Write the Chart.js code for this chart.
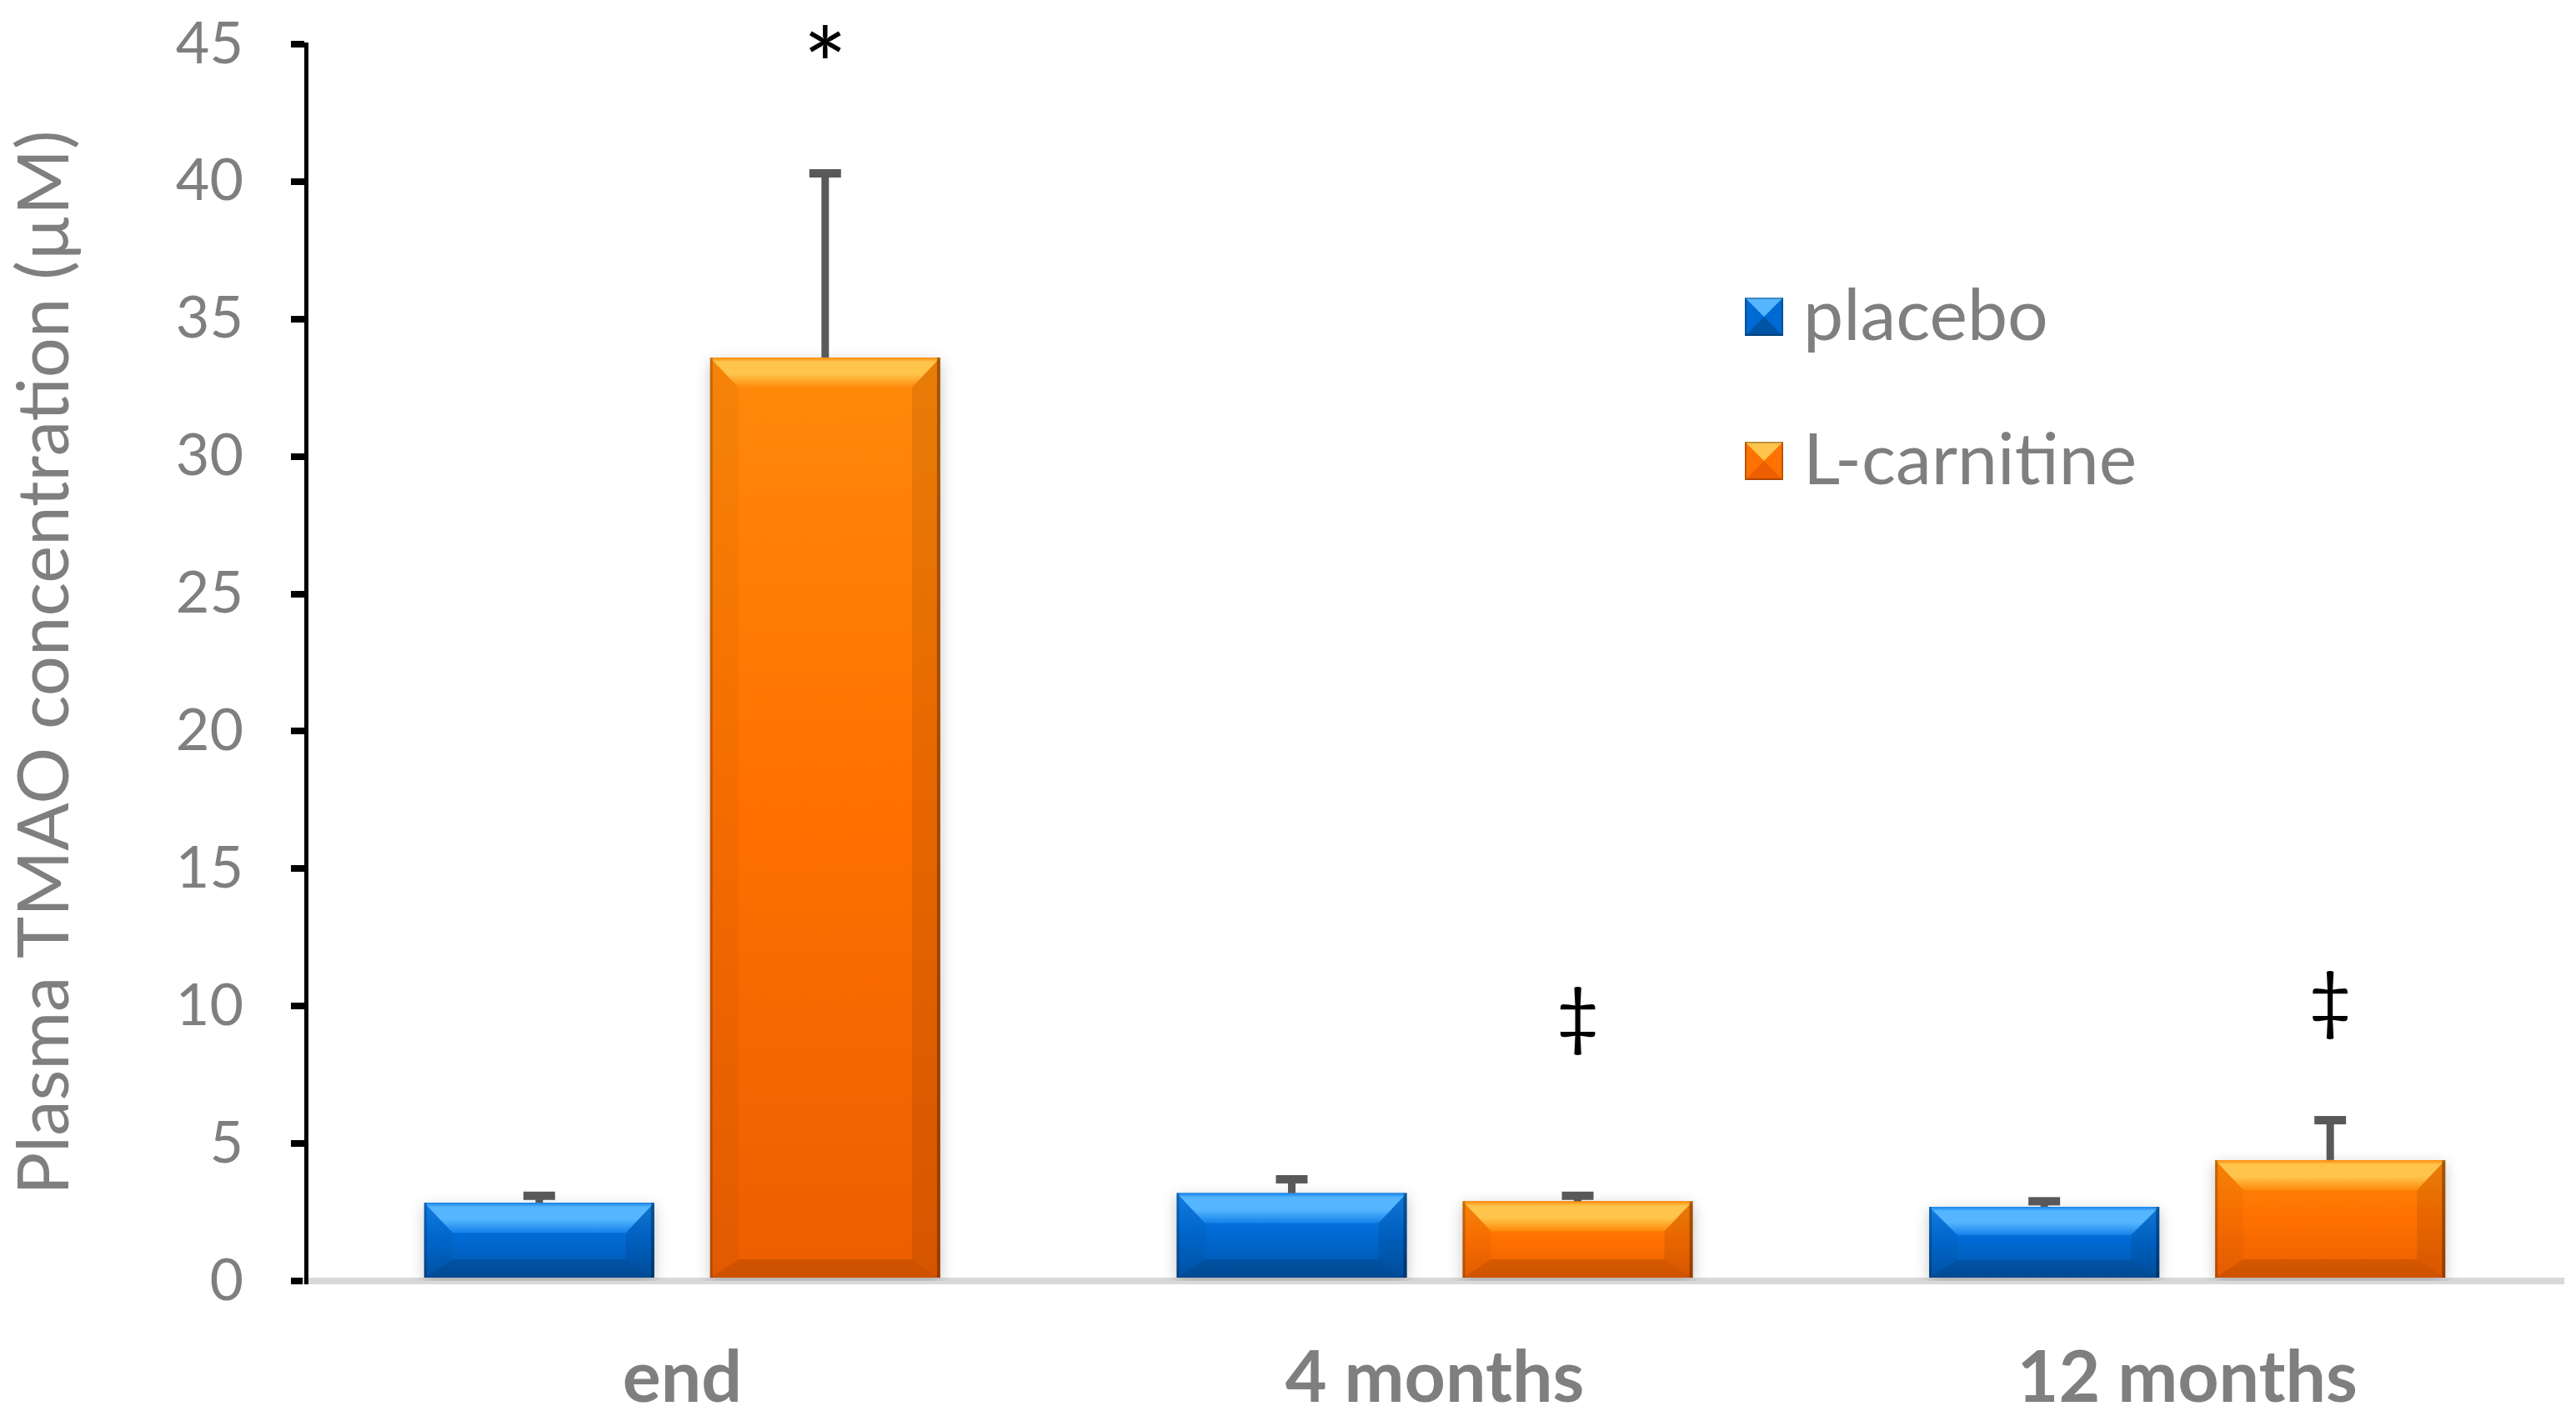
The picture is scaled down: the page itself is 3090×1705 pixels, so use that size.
<!DOCTYPE html>
<html>
<head>
<meta charset="utf-8">
<title>Plasma TMAO</title>
<script src="https://cdn.jsdelivr.net/npm/chart.js@4.4.1/dist/chart.umd.min.js"></script>
<style>
    html, body { margin: 0; padding: 0; background: #ffffff; }
    #wrap { width: 3090px; height: 1705px; }
</style>
</head>
<body>
<div id="wrap"><canvas id="tmaoChart" width="3090" height="1705"></canvas></div>
<script>
// ==========================================
// DATA
// ==========================================

const timepoints = ['end', '4 months', '12 months'];

const placeboMeans = [2.85, 3.2, 2.7];
const placeboErrors = [0.25, 0.5, 0.2];

const carnitineMeans = [33.6, 2.9, 4.4];
const carnitineErrors = [6.7, 0.2, 1.45];

// significance marks above the L-carnitine bars, and the value they sit at
const carnitineMarks = ['*', '\u2021', '\u2021'];
const carnitineMarkLevels = [45.1, 9.45, 10.05];

const yMin = 0;
const yMax = 45;
const yStep = 5;

// ==========================================
// STYLES
// ==========================================

const FONT = 'Lato, "Open Sans", sans-serif';
const GREY = '#7f7f7f';

const blueBar = { light: '#55b6ff', top: '#1582ea', main: '#006ad4', dark: '#0054a6' };
const orangeBar = { light: '#ffc44c', top: '#ff8a0a', main: '#ff7200', dark: '#ec5e00' };

// vertical gradient per bar, built from the y scale
const barFill = (c) => (context) => {
    const chart = context.chart;
    const ys = chart.scales && chart.scales.y;
    if (!ys || !context.parsed || !chart.chartArea) return c.main;
    const y0 = ys.getPixelForValue(context.parsed.y);
    const y1 = ys.getPixelForValue(0);
    if (!isFinite(y0) || y1 - y0 < 2) return c.main;
    const g = chart.ctx.createLinearGradient(0, y0, 0, y1);
    g.addColorStop(0, c.top);
    g.addColorStop(0.45, c.main);
    g.addColorStop(1, c.dark);
    return g;
};

// ==========================================
// PLUGINS
// ==========================================

// soft shadow + bevel on each bar
const bevelPlugin = {
    id: 'bevel',
    beforeDatasetDraw(chart) {
        const ctx = chart.ctx;
        ctx.save();
        ctx.shadowColor = 'rgba(0,0,0,0.22)';
        ctx.shadowBlur = 16;
        ctx.shadowOffsetY = 5;
    },
    afterDatasetDraw(chart, args) {
        const ctx = chart.ctx;
        ctx.restore();
        const c = args.index === 0 ? blueBar : orangeBar;
        args.meta.data.forEach(el => {
            const p = el.getProps(['x', 'y', 'width', 'base'], true);
            const L = p.x - p.width / 2, R = p.x + p.width / 2, T = p.y, B = p.base;
            const h = B - T;
            const bs = 34;
            const bt = Math.min(36, h * 0.4);
            const bb = Math.min(22, h * 0.25);
            ctx.save();
            // top
            const g = ctx.createLinearGradient(0, T, 0, T + bt);
            g.addColorStop(0, c.top);
            g.addColorStop(0.15, c.light);
            g.addColorStop(0.55, c.light);
            g.addColorStop(1, c.top);
            ctx.fillStyle = g;
            ctx.beginPath();
            ctx.moveTo(L, T); ctx.lineTo(R, T); ctx.lineTo(R - bs, T + bt); ctx.lineTo(L + bs, T + bt);
            ctx.closePath(); ctx.fill();
            // sides
            ctx.fillStyle = 'rgba(0,0,0,0.04)';
            ctx.beginPath();
            ctx.moveTo(L, T); ctx.lineTo(L + bs, T + bt); ctx.lineTo(L + bs, B - bb); ctx.lineTo(L, B);
            ctx.closePath(); ctx.fill();
            ctx.fillStyle = 'rgba(0,0,0,0.09)';
            ctx.beginPath();
            ctx.moveTo(R, T); ctx.lineTo(R - bs, T + bt); ctx.lineTo(R - bs, B - bb); ctx.lineTo(R, B);
            ctx.closePath(); ctx.fill();
            // bottom
            ctx.fillStyle = 'rgba(0,0,0,0.13)';
            ctx.beginPath();
            ctx.moveTo(L, B); ctx.lineTo(R, B); ctx.lineTo(R - bs, B - bb); ctx.lineTo(L + bs, B - bb);
            ctx.closePath(); ctx.fill();
            // dark edges
            ctx.fillStyle = 'rgba(0,0,0,0.2)';
            ctx.fillRect(L, T, 3, h);
            ctx.fillStyle = 'rgba(0,0,0,0.3)';
            ctx.fillRect(R - 4, T, 4, h);
            ctx.restore();
        });
    }
};

// upper error bars and significance marks
const errorBarPlugin = {
    id: 'errorBars',
    afterDatasetsDraw(chart) {
        const ctx = chart.ctx;
        const ys = chart.scales.y;
        ctx.save();
        chart.data.datasets.forEach((ds, di) => {
            const meta = chart.getDatasetMeta(di);
            meta.data.forEach((el, i) => {
                const top = ys.getPixelForValue(ds.data[i] + ds.errors[i]);
                ctx.fillStyle = '#595959';
                ctx.fillRect(el.x - 4.5, top, 9, el.y - top);
                ctx.fillRect(el.x - 19, top - 5, 38, 10);
            });
        });
        // marks
        const meta = chart.getDatasetMeta(1);
        ctx.fillStyle = '#000000';
        ctx.textAlign = 'center';
        ctx.textBaseline = 'alphabetic';
        meta.data.forEach((el, i) => {
            const t = carnitineMarks[i];
            if (!t) return;
            ctx.font = (t === '*' ? '125px ' : '90px ') + FONT;
            const m = ctx.measureText(t);
            const cy = ys.getPixelForValue(carnitineMarkLevels[i]);
            const y = cy + (m.actualBoundingBoxAscent - m.actualBoundingBoxDescent) / 2;
            ctx.fillText(t, el.x, y);
        });
        ctx.restore();
    }
};

// legend inside the plot, right side
const legendPlugin = {
    id: 'insideLegend',
    afterDraw(chart, args, opts) {
        const ctx = chart.ctx;
        const styles = [blueBar, orangeBar];
        ctx.save();
        chart.data.datasets.forEach((ds, i) => {
            const c = styles[i];
            const cx = opts.x, cy = opts.y + i * opts.rowGap, s = opts.box;
            const L = cx - s / 2, T = cy - s / 2, R = cx + s / 2, B = cy + s / 2;
            ctx.fillStyle = c.main;
            ctx.fillRect(L, T, s, s);
            ctx.fillStyle = c.light;
            ctx.beginPath(); ctx.moveTo(L, T); ctx.lineTo(R, T); ctx.lineTo(cx, cy); ctx.closePath(); ctx.fill();
            ctx.fillStyle = c.dark;
            ctx.beginPath(); ctx.moveTo(L, B); ctx.lineTo(R, B); ctx.lineTo(cx, cy); ctx.closePath(); ctx.fill();
            ctx.strokeStyle = 'rgba(0,0,0,0.25)';
            ctx.lineWidth = 2;
            ctx.strokeRect(L + 1, T + 1, s - 2, s - 2);

            ctx.fillStyle = GREY;
            ctx.font = opts.fontSize + 'px ' + FONT;
            ctx.textAlign = 'left';
            ctx.textBaseline = 'middle';
            ctx.fillText(ds.label, opts.textX, cy);
        });
        ctx.restore();
    }
};

// ==========================================
// CHART
// ==========================================

const buildChart = () => {
    const ctx = document.getElementById('tmaoChart').getContext('2d');
    return new Chart(ctx, {
        type: 'bar',
        data: {
            labels: timepoints,
            datasets: [{
                label: 'placebo',
                data: placeboMeans,
                errors: placeboErrors,
                backgroundColor: barFill(blueBar),
                borderWidth: 0,
                categoryPercentage: 0.76,
                barPercentage: 0.805
            }, {
                label: 'L-carnitine',
                data: carnitineMeans,
                errors: carnitineErrors,
                backgroundColor: barFill(orangeBar),
                borderWidth: 0,
                categoryPercentage: 0.76,
                barPercentage: 0.805
            }]
        },
        options: {
            responsive: false,
            animation: false,
            devicePixelRatio: 1,
            layout: {
                padding: { top: 53, right: 15, bottom: 0, left: 0 }
            },
            plugins: {
                legend: { display: false },
                tooltip: { enabled: false },
                insideLegend: { x: 2116, y: 380, rowGap: 173, box: 46, textX: 2163, fontSize: 86 }
            },
            scales: {
                x: {
                    grid: { display: false, drawTicks: false },
                    border: { display: true, color: '#d9d9d9', width: 8 },
                    ticks: {
                        color: GREY,
                        padding: 66,
                        font: { family: FONT, size: 86, weight: 'bold' }
                    },
                    afterFit: (scale) => { scale.height = 168; }
                },
                y: {
                    min: yMin,
                    max: yMax,
                    ticks: {
                        stepSize: yStep,
                        color: GREY,
                        padding: 57,
                        font: { family: FONT, size: 70 }
                    },
                    grid: {
                        drawOnChartArea: false,
                        drawTicks: true,
                        tickLength: 18,
                        color: '#000000',
                        lineWidth: 8
                    },
                    border: { display: true, color: '#000000', width: 5 },
                    title: {
                        display: true,
                        text: 'Plasma TMAO concentration (\u00B5M)',
                        color: GREY,
                        padding: { top: 4, bottom: 0 },
                        font: { family: FONT, size: 85 }
                    },
                    afterFit: (scale) => {
                        scale.width = 367;
                        scale.paddingTop = 0;
                        scale.paddingBottom = 0;
                    }
                }
            }
        },
        plugins: [bevelPlugin, errorBarPlugin, legendPlugin]
    });
};

Promise.all([
    document.fonts.load('70px Lato'),
    document.fonts.load('bold 86px Lato')
]).catch(() => {}).then(buildChart);
</script>
</body>
</html>
